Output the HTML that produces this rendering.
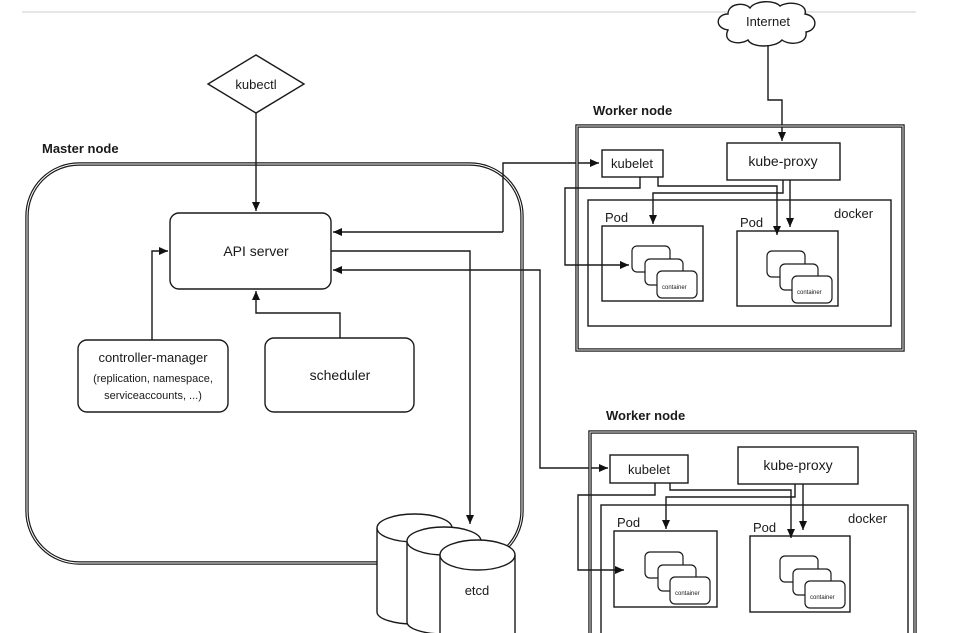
<!DOCTYPE html>
<html><head><meta charset="utf-8"><style>
html,body{margin:0;padding:0;background:#fff}
svg{display:block}
text{font-family:"Liberation Sans",sans-serif;fill:#1a1a1a}
</style></head><body>
<svg width="966" height="633" viewBox="0 0 966 633" xmlns="http://www.w3.org/2000/svg">
<defs>
<marker id="a" markerWidth="10" markerHeight="10" refX="9" refY="5" orient="auto" markerUnits="userSpaceOnUse">
<path d="M0,1 L9,5 L0,9 Z" fill="#111"/></marker>
</defs>
<line x1="22" y1="12" x2="916" y2="12" stroke="#ccc" stroke-width="1"/>
<g fill="none" stroke="#1a1a1a" stroke-width="1.4">
<rect x="27" y="164" width="495" height="399" rx="52" stroke-width="3.4"/>
<rect x="27" y="164" width="495" height="399" rx="52" stroke="#fff" stroke-width="1"/>
<polygon points="256,55 304,84 256,113 208,84" fill="#fff"/>
<line x1="256" y1="113" x2="256" y2="211" marker-end="url(#a)"/>
<rect x="170" y="213" width="161" height="76" rx="9"/>
<rect x="78" y="340" width="150" height="72" rx="9"/>
<rect x="265" y="338" width="149" height="74" rx="9"/>
<polyline points="152,340 152,251 168,251" marker-end="url(#a)"/>
<polyline points="340,338 340,313 256,313 256,291" marker-end="url(#a)"/>
<polyline points="503,232 503,163 599,163" marker-end="url(#a)"/>
<line x1="503" y1="232" x2="333" y2="232" marker-end="url(#a)"/>
<polyline points="331,251 470,251 470,524" marker-end="url(#a)"/>
<polyline points="540,400 540,270 333,270" marker-end="url(#a)"/>
<polyline points="540,400 540,468 608,468" marker-end="url(#a)"/>
<g fill="#fff">
<path d="M377,528 L377,612 A37,12 0 0 0 452,612 L452,528"/>
<ellipse cx="414.5" cy="528" rx="37.5" ry="14"/>
<path d="M407,541 L407,622 A37,12 0 0 0 481,622 L481,541"/>
<ellipse cx="444" cy="541" rx="37" ry="14"/>
<path d="M440,555 L440,640 L515,640 L515,555"/>
<ellipse cx="477.5" cy="555" rx="37.5" ry="15"/>
</g>
<path d="M728,30 C714,28 716,14 728,14 C728,3 745,2 750,8 C755,0 775,0 780,6 C790,0 808,4 805,14 C818,16 818,30 806,32 C808,44 790,46 782,40 C775,48 752,48 748,40 C738,46 722,42 728,30 Z" fill="#fff"/>
<polyline points="768,45 768,100 782,100 782,141" marker-end="url(#a)"/>
<rect x="577" y="126" width="326" height="224" stroke-width="3.4"/>
<rect x="577" y="126" width="326" height="224" stroke="#fff" stroke-width="0.9"/>
<rect x="588" y="200" width="303" height="126"/>
<rect x="602" y="150" width="61" height="27"/>
<rect x="727" y="143" width="113" height="37"/>
<rect x="602" y="226" width="101" height="75"/>
<rect x="737" y="231" width="101" height="75"/>
<polyline points="640,177 640,188 565,188 565,265 629,265" marker-end="url(#a)"/>
<polyline points="658,177 658,186 777,186 777,235" marker-end="url(#a)"/>
<polyline points="783,180 783,193 653,193 653,224" marker-end="url(#a)"/>
<line x1="790" y1="180" x2="790" y2="227" marker-end="url(#a)"/>
<rect x="590" y="432" width="325" height="210" stroke-width="3.4"/>
<rect x="590" y="432" width="325" height="210" stroke="#fff" stroke-width="0.9"/>
<rect x="601" y="505" width="307" height="140"/>
<rect x="610" y="455" width="78" height="28"/>
<rect x="738" y="447" width="120" height="37"/>
<rect x="614" y="531" width="103" height="76"/>
<rect x="750" y="536" width="100" height="76"/>
<polyline points="655,483 655,495 578,495 578,570 624,570" marker-end="url(#a)"/>
<polyline points="670,483 670,490 791,490 791,538" marker-end="url(#a)"/>
<polyline points="795,484 795,497 666,497 666,529" marker-end="url(#a)"/>
<line x1="803" y1="484" x2="803" y2="530" marker-end="url(#a)"/>
<g fill="#fff" stroke-width="1.2">
<rect x="632" y="246" width="38" height="26" rx="5"/><rect x="645" y="259" width="38" height="26" rx="5"/><rect x="657" y="271" width="40" height="27" rx="5"/>
<rect x="767" y="251" width="38" height="26" rx="5"/><rect x="780" y="264" width="38" height="26" rx="5"/><rect x="792" y="276" width="40" height="27" rx="5"/>
<rect x="645" y="552" width="38" height="26" rx="5"/><rect x="658" y="565" width="38" height="26" rx="5"/><rect x="670" y="577" width="40" height="27" rx="5"/>
<rect x="780" y="556" width="38" height="26" rx="5"/><rect x="793" y="569" width="38" height="26" rx="5"/><rect x="805" y="581" width="40" height="27" rx="5"/>
</g>
</g>
<text x="256" y="89" font-size="13" text-anchor="middle">kubectl</text>
<text x="42" y="153" font-size="13" font-weight="bold">Master node</text>
<text x="256" y="256" font-size="14" text-anchor="middle">API server</text>
<text x="153" y="362" font-size="13" text-anchor="middle">controller-manager</text>
<text x="153" y="382" font-size="11" text-anchor="middle">(replication, namespace,</text>
<text x="153" y="399" font-size="11" text-anchor="middle">serviceaccounts, ...)</text>
<text x="340" y="380" font-size="14" text-anchor="middle">scheduler</text>
<text x="477" y="595" font-size="13" text-anchor="middle">etcd</text>
<text x="768" y="26" font-size="13" text-anchor="middle">Internet</text>
<text x="593" y="115" font-size="13" font-weight="bold">Worker node</text>
<text x="632" y="168" font-size="13" text-anchor="middle">kubelet</text>
<text x="783" y="166" font-size="14" text-anchor="middle">kube-proxy</text>
<text x="834" y="218" font-size="13">docker</text>
<text x="605" y="222" font-size="13">Pod</text>
<text x="740" y="227" font-size="13">Pod</text>
<text x="606" y="420" font-size="13" font-weight="bold">Worker node</text>
<text x="649" y="474" font-size="13" text-anchor="middle">kubelet</text>
<text x="798" y="470" font-size="14" text-anchor="middle">kube-proxy</text>
<text x="848" y="523" font-size="13">docker</text>
<text x="617" y="527" font-size="13">Pod</text>
<text x="753" y="532" font-size="13">Pod</text>
<g font-size="6"><text x="662" y="289">container</text><text x="797" y="294">container</text><text x="675" y="595">container</text><text x="810" y="599">container</text></g>
</svg>
</body></html>
